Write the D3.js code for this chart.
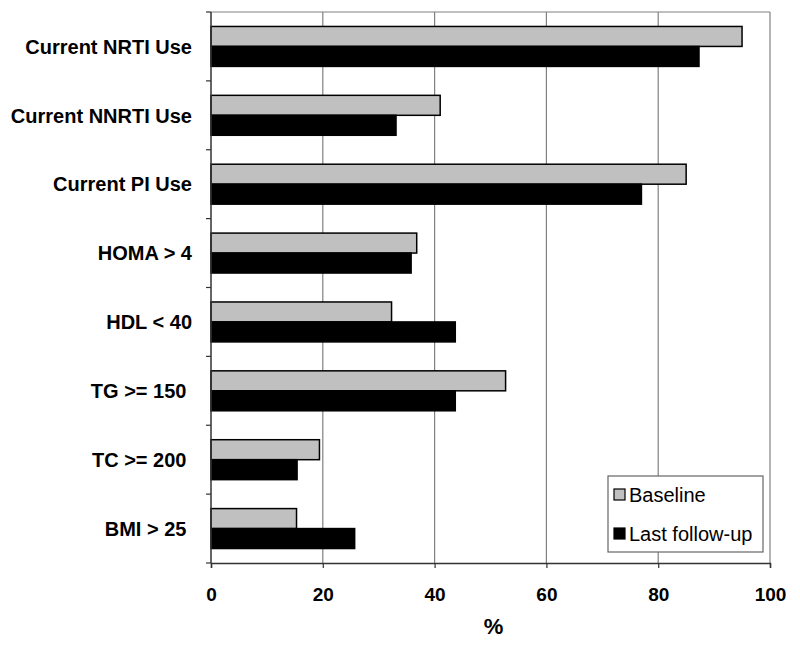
<!DOCTYPE html>
<html><head><meta charset="utf-8">
<script src="https://cdn.jsdelivr.net/npm/d3@7"></script>
<style>body{margin:0;background:#fff}text{font-family:"Liberation Sans",Arial,sans-serif}</style>
</head><body><svg id="c" width="800" height="648"></svg>
<script>
const categories = ["Current NRTI Use","Current NNRTI Use","Current PI Use","HOMA > 4","HDL < 40","TG >= 150\u00a0","TC >= 200\u00a0","BMI > 25\u00a0"];
const baseline = [95, 41, 85, 36.8, 32.3, 52.7, 19.4, 15.3];
const lastFollowUp = [87.3, 33.1, 77, 35.8, 43.7, 43.7, 15.4, 25.7];
const seriesNames = ["Baseline","Last follow-up"];
const xTicks = [0,20,40,60,80,100];

const svg = d3.select("#c");
const L=211, R=770, T=12, B=563;
const x = d3.scaleLinear().domain([0,100]).range([L,R]);
const y = d3.scaleBand().domain(categories).range([T,B]).paddingInner(0.42).paddingOuter(0.21);
const sub = d3.scaleBand().domain(seriesNames).range([0,y.bandwidth()]);
const fills = {"Baseline":"#c0c0c0","Last follow-up":"#000"};

// grid
svg.append("g").selectAll("line").data(xTicks.slice(1)).join("line")
  .attr("x1",d=>x(d)).attr("x2",d=>x(d)).attr("y1",T).attr("y2",B)
  .attr("stroke","#808080").attr("stroke-width",1.2);
svg.append("line").attr("x1",L).attr("x2",R).attr("y1",T).attr("y2",T).attr("stroke","#808080").attr("stroke-width",1.2);

// bars
const rows = categories.map((c,i)=>({c, vals:[{s:"Baseline",v:baseline[i]},{s:"Last follow-up",v:lastFollowUp[i]}]}));
const g = svg.append("g").selectAll("g").data(rows).join("g").attr("transform",d=>`translate(0,${y(d.c)})`);
g.selectAll("rect").data(d=>d.vals).join("rect")
  .attr("x",x(0)).attr("y",d=>sub(d.s)).attr("width",d=>x(d.v)-x(0)).attr("height",sub.bandwidth())
  .attr("fill",d=>fills[d.s]).attr("stroke","#000").attr("stroke-width",1.5);

// axes
const xa = svg.append("g").attr("transform",`translate(0,${B})`)
  .call(d3.axisBottom(x).tickValues(xTicks).tickSize(5).tickPadding(20).tickFormat(d3.format("d")));
xa.select(".domain").attr("stroke","#333").attr("stroke-width",1.5);
xa.selectAll(".tick line").attr("stroke","#333").attr("stroke-width",1.2);
xa.selectAll("text").attr("font-size",19).attr("font-weight","bold").attr("fill","#000");

// left axis with boundary ticks
const bounds = d3.range(categories.length+1).map(i=>T+i*(B-T)/categories.length);
svg.append("line").attr("x1",L).attr("x2",L).attr("y1",T).attr("y2",B).attr("stroke","#333").attr("stroke-width",1.5);
svg.append("g").selectAll("line").data(bounds).join("line")
  .attr("x1",L-5).attr("x2",L).attr("y1",d=>d).attr("y2",d=>d).attr("stroke","#333").attr("stroke-width",1.2);
svg.append("g").selectAll("text").data(categories).join("text")
  .attr("x",192).attr("y",d=>y(d)+y.bandwidth()/2).attr("dy","0.36em")
  .attr("text-anchor","end").attr("font-size",20).attr("font-weight","bold")
  .style("white-space","pre").text(d=>d);

// x title
svg.append("text").attr("x",(L+R)/2+3).attr("y",634).attr("text-anchor","middle")
  .attr("font-size",22).attr("font-weight","bold").text("%");

// legend
const lg = svg.append("g");
lg.append("rect").attr("x",608).attr("y",476).attr("width",155).attr("height",76)
  .attr("fill","#fff").attr("stroke","#666").attr("stroke-width",1.2);
seriesNames.forEach((s,i)=>{
  const cy = 495 + i*39;
  lg.append("rect").attr("x",614).attr("y",cy-6).attr("width",11).attr("height",11)
    .attr("fill",fills[s]).attr("stroke","#000").attr("stroke-width",1.2);
  lg.append("text").attr("x",629).attr("y",cy).attr("dy","0.36em").attr("font-size",20).text(s);
});
</script></body></html>
